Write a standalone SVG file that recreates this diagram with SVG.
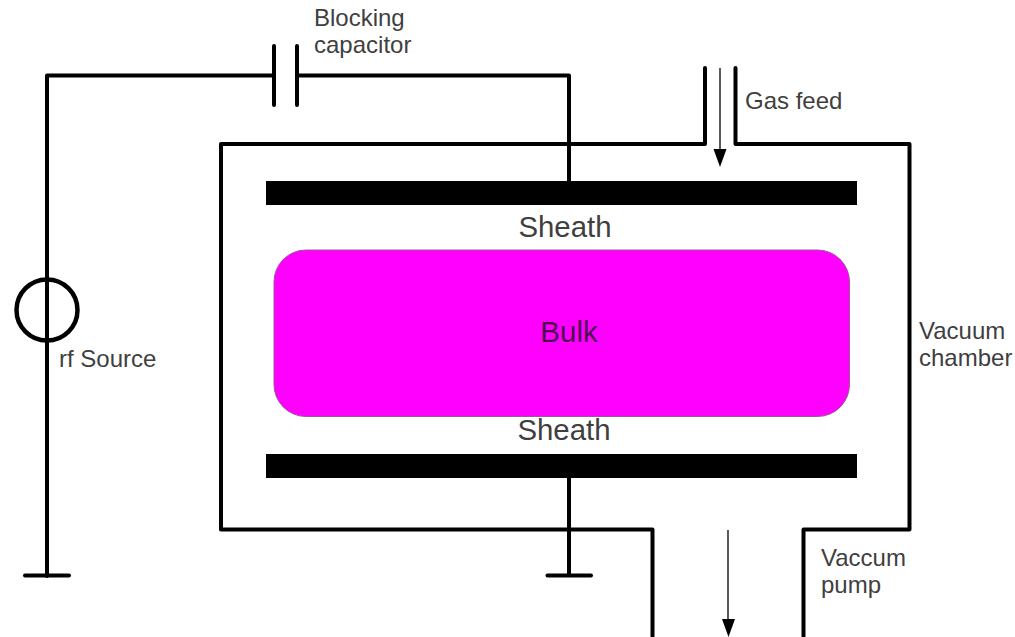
<svg xmlns="http://www.w3.org/2000/svg" width="1015" height="637" viewBox="0 0 1015 637">
<style>
.w{fill:none;stroke:#000;stroke-width:4;stroke-linejoin:round;stroke-linecap:round}
.t{fill:#000;stroke:none}
.thin{fill:none;stroke:#000;stroke-width:1.3}
text{font-family:"Liberation Sans",Arial,sans-serif;fill:#3f3f3f}
.s{font-size:24px}.l{font-size:29.400px}.b{font-size:29.500px;fill:#4a1050}
</style>
<rect width="1015" height="637" fill="#fff"/>
<g id="connectors">
<path class="w" d="M47 576V75.500H273"/>
<path class="w" d="M297 75.500H569V182"/>
<path class="w" d="M569 477V575"/>
<path class="thin" d="M720 68V150"/>
<path class="thin" d="M728 530V620"/>
</g>
<g id="capacitor">
<path class="w" d="M274 46V105M297 46V105"/>
</g>
<g id="rf-source">
<circle cx="47" cy="310" r="30.500" fill="none" stroke="#000" stroke-width="4.500"/>
<text class="s" x="59" y="367">rf Source</text>
</g>
<g id="ground-left"><path class="w" d="M25 575.500H69"/></g>
<g id="ground-right"><path class="w" d="M547.500 575.500H591"/></g>
<g id="vacuum-chamber">
<path class="w" d="M705 68V144H221V529.500H652.500V636"/>
<path class="w" d="M735.500 68V144H909.500V529.500H803.500V636"/>
<text class="s" x="919" y="339">Vacuum</text>
<text class="s" x="919" y="366">chamber</text>
</g>
<g id="gas-feed">
<path class="t" d="M713.500 149H726.500L720 167Z"/>
<text class="s" x="745" y="109">Gas feed</text>
</g>
<g id="top-electrode"><rect class="t" x="266" y="181" width="591" height="24"/></g>
<g id="bottom-electrode"><rect class="t" x="266" y="454" width="591" height="24"/></g>
<g id="bulk">
<rect x="274" y="250" width="575.500" height="166.500" rx="32" ry="32" fill="#ff00ff" stroke="#a050a0" stroke-width="1"/>
<text class="b" x="569" y="341.500" text-anchor="middle">Bulk</text>
</g>
<g id="sheath-top"><text class="l" x="565" y="237" text-anchor="middle">Sheath</text></g>
<g id="sheath-bottom"><text class="l" x="564" y="440" text-anchor="middle">Sheath</text></g>
<g id="blocking-capacitor-label">
<text class="s" x="314" y="26">Blocking</text>
<text class="s" x="314" y="53">capacitor</text>
</g>
<g id="vacuum-pump">
<path class="t" d="M722 619H735L728.500 637Z"/>
<text class="s" x="821" y="566">Vaccum</text>
<text class="s" x="821" y="593">pump</text>
</g>
</svg>
